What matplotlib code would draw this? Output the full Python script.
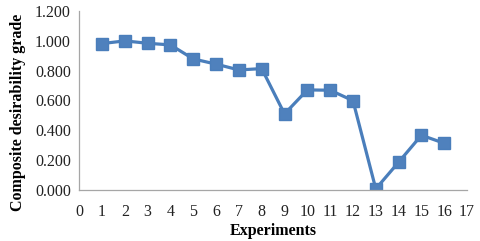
import matplotlib.pyplot as plt

# data
experiments = list(range(1, 17))
grade = [0.982, 1.000, 0.984, 0.973, 0.879, 0.844, 0.805, 0.814,
         0.510, 0.671, 0.669, 0.599, 0.007, 0.186, 0.367, 0.313]
xticks = list(range(0, 18))
yticks = [0.0, 0.2, 0.4, 0.6, 0.8, 1.0, 1.2]

plt.rcParams['font.family'] = ['Liberation Serif', 'DejaVu Serif']

fig = plt.figure(figsize=(4.8, 2.41), dpi=100)
ax = fig.add_axes([0.165, 0.212, 0.808, 0.742])

ax.plot(experiments, grade, color='#4A7EBB', linewidth=2.3,
        marker='s', markersize=9, markerfacecolor='#4F81BD',
        markeredgecolor='#4A7EBB')

ax.set_xlim(0, 17)
ax.set_ylim(0, 1.2)
ax.set_xticks(xticks)
ax.set_yticks(yticks)
ax.set_yticklabels([f'{v:.3f}' for v in yticks])
ax.tick_params(axis='both', length=0, labelsize=11.5, colors='#222222')
ax.tick_params(axis='x', pad=10)
ax.tick_params(axis='y', pad=6)

for s in ['top', 'right']:
    ax.spines[s].set_visible(False)
for s in ['left', 'bottom']:
    ax.spines[s].set_color('#A6A6A6')
    ax.spines[s].set_linewidth(0.9)

ax.set_xlabel('Experiments', fontsize=11.5, fontweight='bold', labelpad=2)
ax.set_ylabel('Composite desirability grade', fontsize=11.5, fontweight='bold')
ax.yaxis.set_label_coords(-0.137, 0.436)

fig.savefig('out.png', dpi=100)
